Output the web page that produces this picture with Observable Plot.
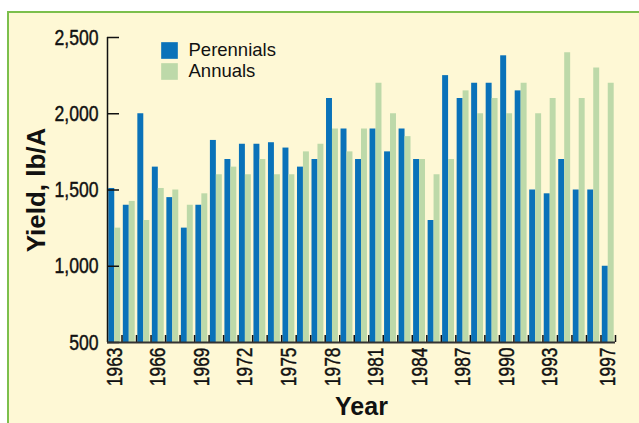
<!DOCTYPE html>
<html>
<head>
<meta charset="utf-8">
<script src="https://cdn.jsdelivr.net/npm/d3@7"></script>
<script src="https://cdn.jsdelivr.net/npm/@observablehq/plot@0.6"></script>
<style>
html, body { margin: 0; padding: 0; background: #ffffff; }
#wrap { position: relative; width: 639px; height: 423px; overflow: hidden; }
#panel { position: absolute; left: 7px; top: 11px; right: 0; bottom: 0; background: #fef8d5;
  border-top: 2px solid #7cbf4c; border-left: 2px solid #7cbf4c; }
#chart { position: absolute; left: 0; top: 0; }
#chart svg { font-family: "Liberation Sans", Arial, Helvetica, sans-serif; }
#chart g[aria-label="y-axis tick label"], #chart g[aria-label="x-axis tick label"] { font-size: 22px; }
#chart g[aria-label="y-axis tick label"] text, #chart g[aria-label="x-axis tick label"] text,
#chart g[aria-label="legend"] text { stroke: #111; stroke-width: 0.45px; }
#chart g[aria-label="legend"] { font-size: 18.5px; }
#chart g[aria-label="x-title"] { font-size: 25px; font-weight: bold; }
#chart g[aria-label="y-title"] { font-size: 26px; font-weight: bold; }
</style>
</head>
<body>
<div id="wrap"><div id="panel"></div><div id="chart"></div></div>
<script>
const years = [1963,1964,1965,1966,1967,1968,1969,1970,1971,1972,1973,1974,1975,1976,1977,1978,1979,1980,
  1981,1982,1983,1984,1985,1986,1987,1988,1989,1990,1991,1992,1993,1994,1995,1996,1997];
const perennials = [1510,1400,2000,1650,1450,1250,1400,1825,1700,1800,1800,1810,1775,1650,1700,2100,1900,1700,
  1900,1750,1900,1700,1300,2250,2100,2200,2200,2380,2150,1500,1475,1700,1500,1500,1000];
const annuals = [1250,1425,1300,1510,1500,1400,1475,1600,1650,1600,1700,1600,1600,1750,1800,1900,1750,1900,
  2200,2000,1850,1700,1600,1700,2150,2000,2100,2000,2200,2000,2100,2400,2100,2300,2200];
const seriesNames = ["Perennials", "Annuals"];
const seriesColors = ["#0a72b9", "#bdd9a9"];
const yTicks = [500, 1000, 1500, 2000, 2500];
const xTickYears = [1963,1966,1969,1972,1975,1978,1981,1984,1987,1990,1993,1997];
const xLabel = "Year";
const yLabel = "Yield, lb/A";

const table = years.map((year, i) => ({year, perennials: perennials[i], annuals: annuals[i]}));
const xDomain = [years[0] - 0.5, years[years.length - 1] + 0.5];
const yDomain = [yTicks[0], yTicks[yTicks.length - 1]];
const half = 0.41;
const boundaries = years.map(y => y + 0.5);

const chart = Plot.plot({
  width: 639,
  height: 423,
  marginLeft: 107,
  marginRight: 24,
  marginTop: 37,
  marginBottom: 81,
  style: {background: "none", color: "#111"},
  x: {domain: xDomain},
  y: {domain: yDomain},
  marks: [
    Plot.rect(table, {x1: d => d.year - half, x2: "year", y1: yDomain[0], y2: "perennials", fill: seriesColors[0]}),
    Plot.rect(table, {x1: "year", x2: d => d.year + half, y1: yDomain[0], y2: "annuals", fill: seriesColors[1]}),
    Plot.axisY({ticks: yTicks, tickSize: 0, tickPadding: 9, tickFormat: d3.format(","), fontSize: 22, label: null}),
    Plot.axisY({ticks: yTicks, tickSize: -12, text: null, label: null, strokeWidth: 1.5}),
    Plot.ruleX([xDomain[0]], {y1: yDomain[0], y2: yDomain[1], strokeWidth: 1.5}),
    Plot.axisX({ticks: boundaries, tickSize: -7, text: null, label: null, strokeWidth: 1.5}),
    Plot.ruleY([yDomain[0]], {strokeWidth: 2, stroke: "#333"}),
    Plot.axisX({ticks: xTickYears, tickSize: 0, tickPadding: 5, tickRotate: -90, tickFormat: d => String(d), fontSize: 22, label: null}),
    Plot.text([xLabel], {frameAnchor: "bottom", textAnchor: "middle", lineAnchor: "middle", dy: 64, fontSize: 25, fontWeight: "bold", ariaLabel: "x-title"}),
    Plot.text([yLabel], {frameAnchor: "left", textAnchor: "middle", lineAnchor: "middle", dx: -71, rotate: -90, fontSize: 26, fontWeight: "bold", ariaLabel: "y-title"}),
    Plot.dot([seriesNames[0]], {frameAnchor: "top-left", dx: 62, dy: 13, symbol: "square", r: 9.4, fill: seriesColors[0]}),
    Plot.dot([seriesNames[1]], {frameAnchor: "top-left", dx: 62, dy: 34, symbol: "square", r: 9.4, fill: seriesColors[1]}),
    Plot.text([seriesNames[0]], {frameAnchor: "top-left", dx: 81, dy: 13, text: d => d, textAnchor: "start", lineAnchor: "middle", fontSize: 18.5, ariaLabel: "legend"}),
    Plot.text([seriesNames[1]], {frameAnchor: "top-left", dx: 81, dy: 34, text: d => d, textAnchor: "start", lineAnchor: "middle", fontSize: 18.5, ariaLabel: "legend"})
  ]
});
document.getElementById("chart").appendChild(chart);

// emulate a condensed typeface: scale each label horizontally about its own anchor
function squeeze(selector, ratio) {
  chart.querySelectorAll(selector).forEach(t => {
    const xAttr = parseFloat(t.getAttribute("x"));
    const x = isNaN(xAttr) ? 0 : xAttr;
    const tr = t.getAttribute("transform") || "";
    t.setAttribute("x", 0);
    t.setAttribute("transform", `${tr} translate(${x},0) scale(${ratio},1)`);
  });
}
squeeze('g[aria-label="y-axis tick label"] text', 0.8);
squeeze('g[aria-label="x-axis tick label"] text', 0.79);
squeeze('g[aria-label="x-title"] text', 0.8);
squeeze('g[aria-label="y-title"] text', 0.86);
squeeze('g[aria-label="legend"] text', 0.95);
</script>
</body>
</html>
